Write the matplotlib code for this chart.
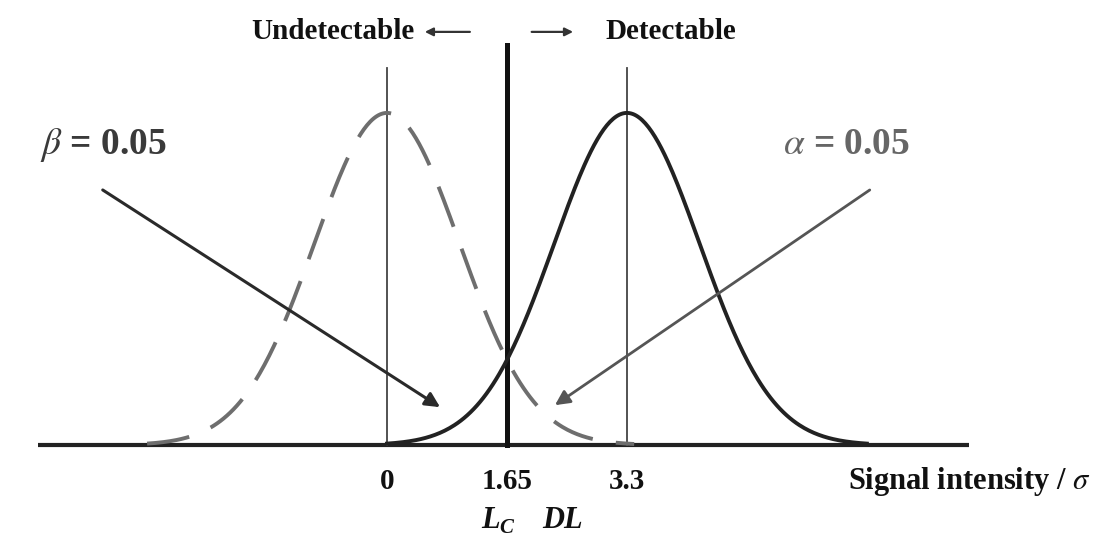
import numpy as np
import matplotlib
matplotlib.use('Agg')
import matplotlib.pyplot as plt

# distributions: blank (dashed) and detection limit (solid), in units of sigma
blank_mean = 0.0
dl_mean = 3.3
sigma = 1.0
lc_value = 1.65
tick_values = [0, 1.65, 3.3]
tick_labels = ['0', '1.65', '3.3']
alpha_text = r'$\alpha$ = 0.05'
beta_text = r'$\beta$ = 0.05'

serif = ['Liberation Serif', 'DejaVu Serif']
plt.rcParams['mathtext.fontset'] = 'stix'

fig = plt.figure(figsize=(11.04, 5.45), dpi=100)
ax = fig.add_axes([0, 0, 1, 1])
ax.set_xlim(-5.323, 9.862)
ax.set_ylim(-0.301, 1.340)
ax.axis('off')

def curve(mean, x):
    # normal density scaled so the peak is 1
    return np.exp(-0.5 * ((x - mean) / sigma) ** 2)

x_blank = np.linspace(blank_mean - 3.3, blank_mean + 3.4, 300)
x_dl = np.linspace(dl_mean - 3.3, dl_mean + 3.3, 300)

# baseline
ax.plot([-4.8, 8.0], [0, 0], color='#222222', lw=3.0, solid_capstyle='butt')

# vertical lines
ax.plot([blank_mean, blank_mean], [0, 1.136], color='#444444', lw=1.3)
ax.plot([dl_mean, dl_mean], [0, 1.136], color='#444444', lw=1.3)
ax.plot([lc_value, lc_value], [0, 1.205], color='#111111', lw=3.6)

# curves
ax.plot(x_blank, curve(blank_mean, x_blank), color='#6e6e6e', lw=2.8,
        dashes=(11, 6))
ax.plot(x_dl, curve(dl_mean, x_dl), color='#222222', lw=2.8)

# arrows for alpha / beta
ax.annotate('', xy=(0.73, 0.114), xytext=(-3.91, 0.768),
            arrowprops=dict(arrowstyle='-|>', color='#2a2a2a', lw=2.2,
                            mutation_scale=22, shrinkA=0, shrinkB=0))
ax.annotate('', xy=(2.31, 0.120), xytext=(6.64, 0.768),
            arrowprops=dict(arrowstyle='-|>', color='#555555', lw=2.0,
                            mutation_scale=22, shrinkA=0, shrinkB=0))

ax.text(-4.77, 0.904, beta_text, fontsize=27, fontweight='bold',
        family=serif, color='#3a3a3a', ha='left', va='center')
ax.text(5.45, 0.904, alpha_text, fontsize=27, fontweight='bold',
        family=serif, color='#666666', ha='left', va='center')

# top labels with direction arrows
ax.text(0.385, 1.244, 'Undetectable', fontsize=21, fontweight='bold',
        family=serif, color='#111111', ha='right', va='center')
ax.text(3.0, 1.244, 'Detectable', fontsize=21, fontweight='bold',
        family=serif, color='#111111', ha='left', va='center')
ax.annotate('', xy=(0.52, 1.244), xytext=(1.14, 1.244),
            arrowprops=dict(arrowstyle='-|>', color='#333333', lw=1.6,
                            mutation_scale=12, shrinkA=0, shrinkB=0))
ax.annotate('', xy=(2.56, 1.244), xytext=(1.99, 1.244),
            arrowprops=dict(arrowstyle='-|>', color='#333333', lw=1.6,
                            mutation_scale=12, shrinkA=0, shrinkB=0))

# tick labels
for v, lab in zip(tick_values, tick_labels):
    ax.text(v, -0.111, lab, fontsize=21, fontweight='bold', family=serif,
            color='#111111', ha='center', va='center')

ax.text(6.34, -0.111, 'Signal intensity / $\\sigma$', fontsize=22,
        fontweight='bold', family=serif, color='#111111', ha='left',
        va='center')

# L_C and DL
ax.text(1.55, -0.226, 'L', fontsize=22, fontweight='bold', style='italic',
        family=serif, color='#111111', ha='right', va='center')
ax.text(1.55, -0.250, 'C', fontsize=15, fontweight='bold', style='italic',
        family=serif, color='#111111', ha='left', va='center')
ax.text(2.41, -0.226, 'DL', fontsize=22, fontweight='bold', style='italic',
        family=serif, color='#111111', ha='center', va='center')

fig.savefig('out.png', dpi=100, facecolor='white')
